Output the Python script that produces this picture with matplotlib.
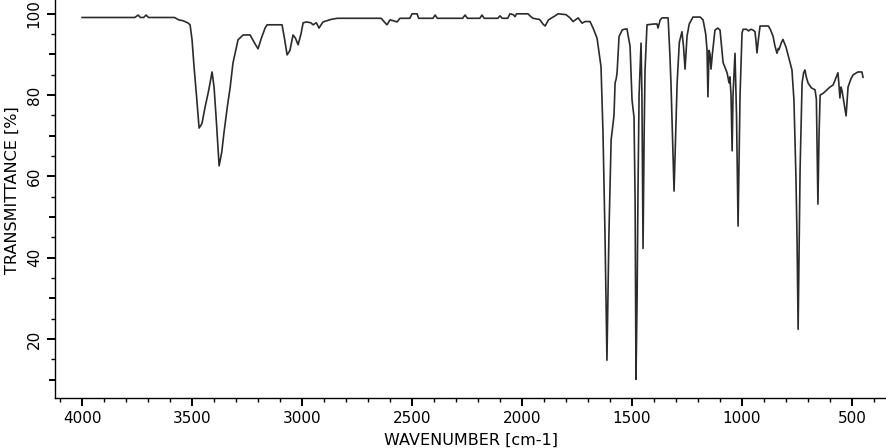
import numpy as np
import matplotlib
matplotlib.use("Agg")
import matplotlib.pyplot as plt
from matplotlib.ticker import MultipleLocator, FuncFormatter

# IR spectrum, points
wavenumber = [
    4000, 3760, 3745, 3735, 3720, 3709, 3698, 3580, 3560, 3541, 3520, 3509,
    3500, 3491, 3480, 3468, 3455, 3441, 3425, 3409, 3400, 3390, 3377, 3365,
    3355, 3340, 3327, 3314, 3291, 3268, 3236, 3218, 3200, 3185, 3168, 3159,
    3091, 3080, 3068, 3055, 3041, 3030, 3018, 3005, 2995, 2980, 2960, 2950,
    2935, 2923, 2905, 2870, 2841, 2640, 2626, 2614, 2600, 2585, 2568, 2555,
    2510, 2500, 2477, 2470, 2405, 2395, 2385, 2270, 2259, 2248, 2192, 2182,
    2172, 2110, 2100, 2090, 2065, 2055, 2040, 2032, 2025, 1973, 1960, 1950,
    1920, 1905, 1895, 1880, 1850, 1836, 1800, 1782, 1768, 1745, 1727, 1714,
    1691, 1677, 1659, 1641, 1632, 1623, 1614, 1605, 1595, 1586, 1582, 1577,
    1572, 1568, 1559, 1545, 1536, 1523, 1509, 1500, 1491, 1486, 1482, 1477,
    1473, 1468, 1459, 1455, 1450, 1445, 1441, 1432, 1400, 1386, 1382, 1372,
    1364, 1336, 1328, 1323, 1316, 1309, 1302, 1295, 1285, 1273, 1266, 1259,
    1250, 1240, 1223, 1190, 1177, 1165, 1159, 1155, 1150, 1145, 1141, 1135,
    1123, 1110, 1100, 1086, 1068, 1059, 1055, 1050, 1045, 1041, 1032, 1025,
    1018, 1012, 1009, 1000, 995, 980, 970, 960, 950, 941, 936, 932,
    925, 918, 880, 870, 859, 850, 841, 835, 832, 828, 822, 814,
    800, 791, 773, 764, 755, 750, 745, 740, 736, 727, 720, 714,
    708, 700, 685, 668, 662, 655, 650, 645, 630, 614, 600, 586,
    575, 564, 560, 555, 550, 545, 536, 527, 522, 518, 505, 495,
    473, 455, 450,
]
transmittance = [
    99.1, 99.1, 99.7, 99.1, 99.1, 99.7, 99.1, 99.1, 98.5, 98.3, 97.8, 97.3,
    93.6, 87.0, 80.0, 71.9, 73.0, 77.0, 81.0, 85.7, 82.0, 74.0, 62.6, 66.0,
    70.7, 77.0, 81.8, 87.9, 93.6, 94.8, 94.8, 93.0, 91.4, 94.0, 96.5, 97.3,
    97.3, 94.0, 89.9, 91.0, 94.8, 94.0, 92.4, 95.0, 97.8, 98.0, 97.8, 97.3,
    97.8, 96.5, 98.0, 98.6, 98.9, 98.9, 98.0, 97.3, 98.5, 98.3, 98.0, 98.9,
    98.9, 100.0, 100.0, 98.9, 98.9, 99.7, 98.9, 98.9, 99.7, 98.9, 98.9, 99.7,
    98.9, 98.9, 99.5, 98.9, 98.9, 100.0, 99.8, 99.3, 100.0, 100.0, 99.3, 98.9,
    98.6, 97.5, 97.0, 98.5, 99.5, 100.0, 99.8, 99.0, 98.1, 99.0, 97.7, 98.1,
    98.1, 96.5, 94.0, 87.0, 70.7, 46.0, 14.8, 46.0, 69.0, 73.0, 75.0, 83.0,
    84.0, 85.5, 94.4, 96.0, 96.2, 96.3, 92.0, 78.8, 74.6, 54.0, 10.1, 30.0,
    56.0, 80.0, 92.8, 80.0, 42.3, 70.0, 86.0, 97.3, 97.5, 97.5, 96.5, 98.5,
    99.0, 99.0, 90.0, 83.0, 70.0, 56.4, 70.0, 83.0, 93.0, 95.6, 92.0, 86.4,
    94.5, 97.5, 99.2, 99.2, 98.5, 95.0, 91.0, 79.6, 91.0, 90.0, 86.4, 90.0,
    96.0, 96.5, 96.0, 88.0, 85.5, 83.0, 84.5, 80.0, 66.3, 80.0, 90.3, 75.0,
    47.8, 70.0, 80.0, 95.3, 96.2, 96.2, 95.8, 96.2, 96.0, 95.6, 93.0, 90.4,
    94.0, 97.0, 97.0, 96.0, 94.5, 92.0, 90.3, 91.5, 91.2, 91.8, 92.8, 93.7,
    91.8, 89.9, 86.2, 78.8, 60.0, 45.0, 22.4, 45.0, 62.0, 83.0, 85.5, 86.2,
    84.5, 83.0, 81.8, 81.3, 79.0, 53.2, 70.0, 80.0, 80.5, 81.3, 82.0, 82.5,
    84.0, 85.5, 83.0, 79.3, 82.0, 81.0, 78.0, 74.9, 79.0, 82.0, 84.0, 85.0,
    85.7, 85.7, 84.4,
]

W, H = 887, 448
fig = plt.figure(figsize=(W / 100, H / 100), dpi=100)
ax = fig.add_axes([55 / W, 50 / H, 832 / W, 398 / H])

ax.plot(wavenumber, transmittance, color="#2b2b2b", linewidth=1.2)

ax.set_xlim(4123, 341)
ax.set_ylim(5.5, 103.4)

for side in ("top", "right"):
    ax.spines[side].set_visible(False)
for side in ("left", "bottom"):
    ax.spines[side].set_linewidth(1.0)

ax.xaxis.set_major_locator(MultipleLocator(500))
ax.xaxis.set_minor_locator(MultipleLocator(100))
ax.yaxis.set_major_locator(MultipleLocator(10))
ax.yaxis.set_minor_locator(MultipleLocator(5))
ax.yaxis.set_major_formatter(
    FuncFormatter(lambda v, p: f"{v:.0f}" if round(v) % 20 == 0 else "")
)

ax.tick_params(which="major", length=6, width=1.4, labelsize=11, direction="out")
ax.tick_params(which="minor", length=3, width=1.0, direction="out")
ax.tick_params(axis="y", which="major", labelrotation=90)

fig.canvas.draw()
for tick in ax.yaxis.get_major_ticks():
    if round(tick.get_loc()) % 20 != 0:
        tick.tick1line.set_markersize(4.5)
for lbl in ax.get_yticklabels():
    lbl.set_verticalalignment("center")

fig.text(471 / W, 1 - 440 / H, "WAVENUMBER [cm-1]", fontsize=11.5,
         ha="center", va="center")
fig.text(12 / W, 1 - 190 / H, "TRANSMITTANCE [%]", fontsize=11.5,
         ha="center", va="center", rotation=90)

fig.savefig("out.png", dpi=100)
